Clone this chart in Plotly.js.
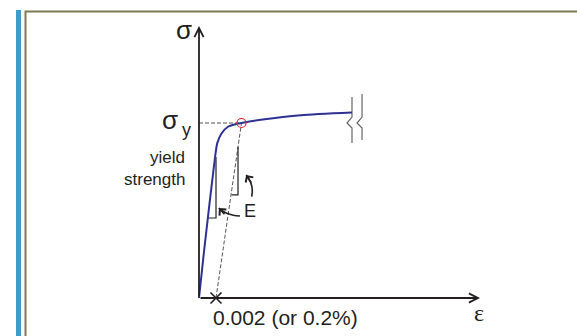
<!DOCTYPE html>
<html>
<head>
<meta charset="utf-8">
<script src="https://cdn.plot.ly/plotly-3.0.1.min.js"></script>
<style>
html, body { margin: 0; padding: 0; background: #fff; }
#grafic { width: 577px; height: 336px; }
</style>
</head>
<body>
<div id="grafic"></div>
<script>
// STRESS-STRAIN CURVE (strain in %, stress as fraction of sigma_y)
var strain = [0, 0.06, 0.19, 0.215, 0.265, 0.345, 0.445, 0.5, 0.75, 1.2, 1.8];
var stress = [0, 0.27, 0.81, 0.885, 0.94, 0.98, 0.995, 1.0, 1.02, 1.045, 1.06];

// 0.2% OFFSET LINE AND YIELD POINT
var offsetStrain = [0.2, 0.5];
var offsetStress = [0, 1.0];
var yieldStrain = [0.5];
var yieldStress = [1.0];
var guideStrain = [0, 0.5];     // dashed line at sigma_y
var guideStress = [1.0, 1.0];

// SLOPE TRIANGLES (E)
var triLeftStrain = [0.2, 0.2, 0.11];
var triLeftStress = [0.806, 0.457, 0.457];
var triRightStrain = [0.459, 0.459, 0.385];
var triRightStress = [0.863, 0.589, 0.589];

// CURVED ARROWS POINTING AT THE TRIANGLES
var arrowLeftStrain = [0.482, 0.404, 0.326, 0.255, 0.235];
var arrowLeftStress = [0.469, 0.473, 0.484, 0.503, 0.514];
var arrowRightStrain = [0.620, 0.627, 0.612, 0.573, 0.555];
var arrowRightStress = [0.579, 0.617, 0.655, 0.69, 0.703];

// AXIS BREAK (two zigzags)
var break1Strain = [1.8, 1.8, 1.741, 1.8, 1.8];
var break1Stress = [1.149, 1.034, 1.0, 0.971, 0.886];
var break2Strain = [1.918, 1.918, 1.859, 1.918, 1.918];
var break2Stress = [1.166, 1.034, 1.0, 0.971, 0.903];

// AXIS ENDS
var axisEndStrain = 3.306;
var axisEndStress = 1.554;

// PIXEL <-> DATA (plot area is the whole page)
var W = 577, H = 336;
var ORIGIN_X = 199, ORIGIN_Y = 298;
var PX_PER_PERCENT = 85, PX_PER_SIGMA = 175;
function dx(p) { return (p - ORIGIN_X) / PX_PER_PERCENT; }
function dy(p) { return (ORIGIN_Y - p) / PX_PER_SIGMA; }
function paperX(p) { return p / W; }
function paperY(p) { return 1 - p / H; }

var SANS = 'Liberation Sans, Arial, sans-serif';
var GREEK = 'Liberation Serif, Times New Roman, serif';
var INK = '#231f20';

var traces = [
    {x: guideStrain, y: guideStress, mode: 'lines', line: {color: '#555', width: 1, dash: '4px,2px'}},
    {x: offsetStrain, y: offsetStress, mode: 'lines', line: {color: '#555', width: 1, dash: '4px,2px'}},
    {x: triLeftStrain, y: triLeftStress, mode: 'lines', line: {color: INK, width: 1.2}},
    {x: triRightStrain, y: triRightStress, mode: 'lines', line: {color: INK, width: 1.2}},
    {x: arrowLeftStrain, y: arrowLeftStress, mode: 'lines', line: {color: INK, width: 1.6, shape: 'spline'}},
    {x: arrowRightStrain, y: arrowRightStress, mode: 'lines', line: {color: INK, width: 1.6, shape: 'spline'}},
    {x: break1Strain, y: break1Stress, mode: 'lines', line: {color: '#666', width: 1.2}},
    {x: break2Strain, y: break2Stress, mode: 'lines', line: {color: '#666', width: 1.2}},
    {x: strain, y: stress, mode: 'lines', line: {color: '#2e3192', width: 2, shape: 'spline', smoothing: 0.6}},
    {x: yieldStrain, y: yieldStress, mode: 'markers', marker: {symbol: 'circle-open', size: 9, color: '#e8262a', line: {width: 1.2}}},
    {x: [offsetStrain[0]], y: [offsetStress[0]], mode: 'markers', marker: {symbol: 'x-thin-open', size: 11, color: INK, line: {width: 1.6, color: INK}}}
];

function arrow(x, y, ax, ay, head, size, width) {
    return {x: x, y: y, ax: ax, ay: ay, xref: 'x', yref: 'y', axref: 'x', ayref: 'y',
        text: '', showarrow: true, arrowhead: head, arrowsize: size, arrowwidth: width,
        arrowcolor: INK, standoff: 0, startstandoff: 0};
}
// arrowhead at the end of a curved path, tail pushed back along the last segment
function tipArrow(xs, ys) {
    var n = xs.length - 1;
    var tx = xs[n] + (xs[n - 1] - xs[n]) * 4;
    var ty = ys[n] + (ys[n - 1] - ys[n]) * 4;
    return arrow(xs[n], ys[n], tx, ty, 4, 1.1, 1.6);
}
function label(text, px, py, size, family, anchor) {
    return {x: dx(px), y: dy(py), xref: 'x', yref: 'y', text: text, showarrow: false,
        xanchor: anchor || 'center', yanchor: 'middle', font: {family: family, size: size, color: INK}};
}

var annotations = [
    // AXES
    arrow(axisEndStrain, 0, 0, 0, 5, 1.0, 1.8),
    arrow(0, axisEndStress, 0, 0, 5, 1.0, 1.8),
    // ARROWHEADS ON THE CURVED ARROWS
    tipArrow(arrowLeftStrain, arrowLeftStress),
    tipArrow(arrowRightStrain, arrowRightStress),
    // TEXTS
    label('σ', 184, 30, 26, SANS),
    label('σ', 170, 120, 26, SANS),
    label('y', 186, 130, 18, SANS),
    label('yield', 187, 157, 17, SANS, 'right'),
    label('strength', 187, 179, 17, SANS, 'right'),
    label('E', 250, 211, 18, SANS),
    label('0.002 (or 0.2%)', 285, 317, 21, SANS),
    label('ε', 479, 313, 24, GREEK)
];

// FRAME: blue bar + olive border
var shapes = [
    {type: 'rect', xref: 'paper', yref: 'paper', x0: paperX(16), x1: paperX(21), y0: paperY(10), y1: paperY(340),
        fillcolor: '#3f9bc8', line: {width: 0}},
    {type: 'rect', xref: 'paper', yref: 'paper', x0: paperX(25.5), x1: paperX(600), y0: paperY(11.5), y1: paperY(360),
        fillcolor: 'rgba(0,0,0,0)', line: {color: '#7d7a55', width: 2}}
];

var layout = {
    width: W, height: H,
    margin: {l: 0, r: 0, t: 0, b: 0},
    paper_bgcolor: '#fff', plot_bgcolor: '#fff',
    showlegend: false,
    xaxis: {range: [dx(0), dx(W)], visible: false, fixedrange: true},
    yaxis: {range: [dy(H), dy(0)], visible: false, fixedrange: true},
    shapes: shapes,
    annotations: annotations
};

Plotly.newPlot('grafic', traces.map(function (t) { t.type = 'scatter'; t.hoverinfo = 'skip'; t.cliponaxis = false; return t; }), layout, {staticPlot: true});
</script>
</body>
</html>
